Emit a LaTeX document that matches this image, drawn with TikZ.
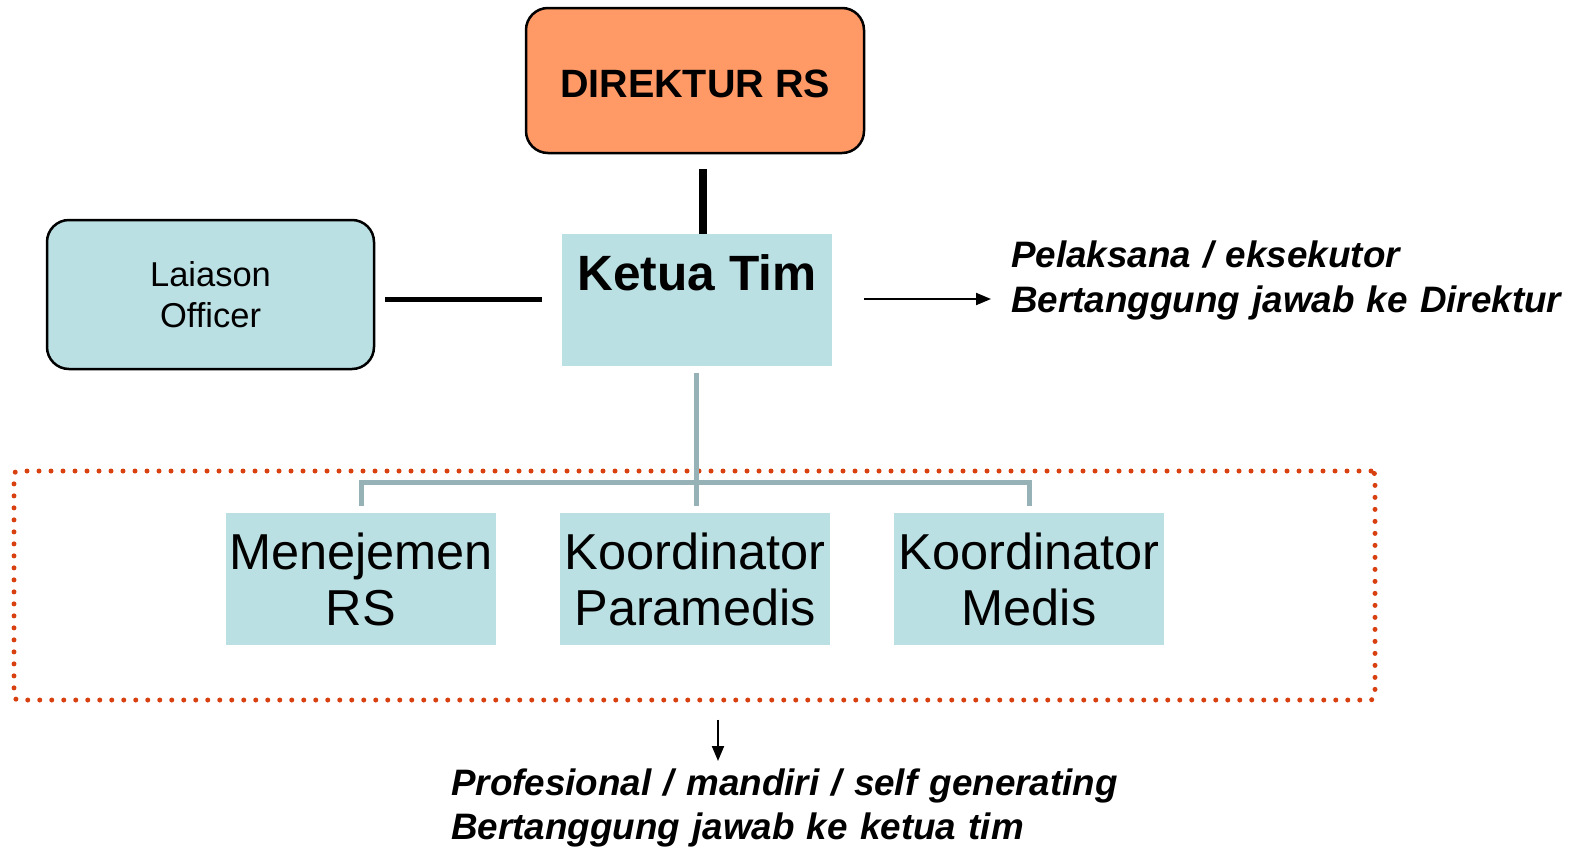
\documentclass[tikz,border=0pt]{standalone}
\usepackage{fontspec}
\setmainfont{Liberation Sans}
\usetikzlibrary{arrows.meta}
\definecolor{dirorange}{RGB}{255,153,102}
\definecolor{boxblue}{RGB}{187,224,227}
\definecolor{treegray}{RGB}{150,178,182}
\definecolor{dotred}{RGB}{217,64,16}
\begin{document}
\begin{tikzpicture}[x=1pt,y=-1pt,
  rbox/.style={draw=black, line width=2.5pt, rounded corners=22pt, inner sep=0pt},
  flat/.style={fill=boxblue, inner sep=0pt, minimum width=270pt, minimum height=132pt, align=center},
  botbox/.style={flat, font=\fontsize{50.5}{56}\selectfont},
  note/.style={inner sep=0pt, text width=720pt, align=left, anchor=base west},
  blackline/.style={draw=black, line cap=butt},
  treeline/.style={draw=treegray, line width=5pt, line join=miter},
  arr/.style={draw=black, line width=2pt, -{Triangle[length=15pt,width=12pt]}},
  groupframe/.style={draw=dotred, line width=5pt, dash pattern=on 0pt off 12pt, line cap=round, rounded corners=4pt, inner sep=0pt}]
\useasboundingbox (0,0) rectangle (1581,846);

% nodes
\node[rbox, fill=dirorange, minimum width=338pt, text height=89pt, text depth=56pt,
      font=\fontsize{39.5}{47}\selectfont\bfseries] (dir) at (695,80.5) {DIREKTUR RS};
\node[flat, text height=56pt, text depth=76pt,
      font=\fontsize{49.6}{56}\selectfont\bfseries] (ketua) at (697,300) {Ketua Tim};
\node[rbox, fill=boxblue, minimum width=327pt, minimum height=149pt, align=center,
      font=\fontsize{34.5}{41}\selectfont] (lo) at (210.5,294.5) {Laiason\\Officer};

\node[groupframe, minimum width=1361pt, minimum height=229pt] (grp) at (694.5,585.5) {};

\node[botbox] (m1) at (361,579) {Menejemen\\RS};
\node[botbox] (m2) at (695,579) {Koordinator\\Paramedis};
\node[botbox] (m3) at (1029,579) {Koordinator\\Medis};

\node[note, font=\fontsize{36.8}{45.5}\selectfont\bfseries\itshape] (rt) at (1011,267)
  {Pelaksana / eksekutor\\Bertanggung jawab ke Direktur};
\node[note, font=\fontsize{36.8}{44}\selectfont\bfseries\itshape] (bt) at (451,795.5)
  {Profesional / mandiri / self generating\\Bertanggung jawab ke ketua tim};

% helper coordinates
\coordinate (bus) at (696,482);
\coordinate (rtip) at (991,299);
\coordinate (dtip) at (718,761);

% connectors
\draw[blackline, line width=8pt, shorten <=15pt] (dir.south -| 703,0) -- (ketua.north -| 703,0);
\draw[blackline, line width=5.5pt, shorten <=10pt, shorten >=20pt] (lo.east |- 0,299.5) -- (ketua.west |- 0,299.5);
\draw[arr, shorten <=32pt] (ketua.east |- rtip) -- (rtip);

\draw[treeline, shorten <=7pt, shorten >=7pt] (ketua.south -| bus) -- (m2.north -| bus);
\draw[treeline] ([yshift=7pt]m1.north) |- (bus) -| ([yshift=7pt]m3.north);

\draw[arr, shorten <=17pt] (grp.south -| dtip) -- (dtip);
\end{tikzpicture}
\end{document}
